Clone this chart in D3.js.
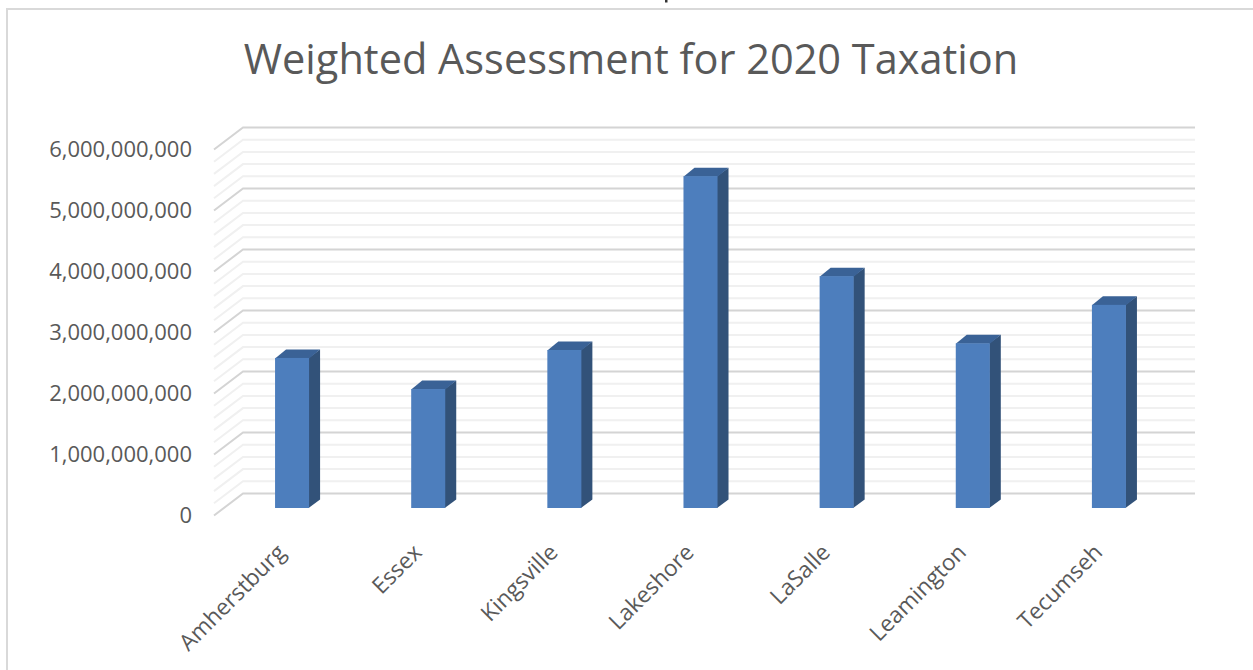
<!DOCTYPE html>
<html>
<head>
<meta charset="utf-8">
<style>
  body { margin: 0; background: #fff; }
  text { font-family: "Open Sans", sans-serif; fill: #595959; }
</style>
</head>
<body>
<svg id="chart" width="1253" height="670"></svg>

<script src="https://d3js.org/d3.v7.min.js"></script>
<script>
  // Data
  var categories = ["Amherstburg", "Essex", "Kingsville", "Lakeshore", "LaSalle", "Leamington", "Tecumseh"];
  var assessment = [2460000000, 1950000000, 2590000000, 5440000000, 3800000000, 2700000000, 3330000000];
  var majorTicks = [0, 1000000000, 2000000000, 3000000000, 4000000000, 5000000000, 6000000000];
  var minorTicks = [200000000, 400000000, 600000000, 800000000,
    1200000000, 1400000000, 1600000000, 1800000000,
    2200000000, 2400000000, 2600000000, 2800000000,
    3200000000, 3400000000, 3600000000, 3800000000,
    4200000000, 4400000000, 4600000000, 4800000000,
    5200000000, 5400000000, 5600000000, 5800000000];
  var chartTitle = "Weighted Assessment for 2020 Taxation";

  var svg = d3.select("#chart");

  // Chart frame, only the top and left edges are in the picture
  svg.append("path")
    .attr("d", "M7,670V9H1253")
    .attr("fill", "none")
    .attr("stroke", "#d9d9d9")
    .attr("stroke-width", 2);

  // Speck left over from the text above the frame
  svg.append("rect")
    .attr("x", 665).attr("y", 0)
    .attr("width", 2.5).attr("height", 2.5)
    .attr("fill", "#333");

  svg.append("text")
    .attr("x", 631).attr("y", 74)
    .attr("text-anchor", "middle")
    .style("font-size", "41.5px")
    .text(chartTitle);

  // Scales: y is the back wall, the floor runs forward and to the left of it
  var y = d3.scaleLinear().domain([0, 6000000000]).range([493.5, 127.5]);
  var x = d3.scaleBand().domain(categories).range([224, 1177]).paddingInner(0.75).paddingOuter(0.375);
  var wallLeft = 243, wallRight = 1195;
  var depthX = 29, depthY = 22;       // full depth of the floor
  var barDepthX = 11, barDepthY = 8.5; // depth of one bar
  var barFront = 14.5;                // how far the bar front stands forward of the wall

  function gridLines(values, colour, width) {
    svg.append("g").selectAll("path")
      .data(values)
      .enter()
      .append("path")
      .attr("d", function (d) {
        return "M" + (wallLeft - depthX) + "," + (y(d) + depthY) +
          "L" + wallLeft + "," + y(d) + "H" + wallRight;
      })
      .attr("fill", "none")
      .attr("stroke", colour)
      .attr("stroke-width", width);
  }
  gridLines(minorTicks, "#f0f0f0", 2);
  gridLines(majorTicks, "#d4d4d4", 2);

  // Bars
  var bars = svg.append("g").selectAll("g")
    .data(categories)
    .enter()
    .append("g");

  function faceTop(i) { return y(assessment[i]) + barFront; }
  var faceBottom = y(0) + barFront;

  bars.append("path")  // side
    .attr("fill", "#325279")
    .attr("d", function (d, i) {
      var r = x(d) + x.bandwidth() - 0.5;
      return "M" + r + "," + faceTop(i) + "l" + (barDepthX + 0.5) + "," + (-barDepthY) +
        "V" + (faceBottom - barDepthY) + "L" + r + "," + faceBottom + "Z";
    });

  bars.append("path")  // top
    .attr("fill", "#3a6296")
    .attr("d", function (d, i) {
      return "M" + x(d) + "," + (faceTop(i) + 0.5) + "l" + barDepthX + "," + (-barDepthY - 0.5) +
        "h" + x.bandwidth() + "l" + (-barDepthX) + "," + (barDepthY + 0.5) + "Z";
    });

  bars.append("rect")  // front
    .attr("fill", "#4d7ebd")
    .attr("x", function (d) { return x(d); })
    .attr("width", x.bandwidth())
    .attr("y", function (d, i) { return faceTop(i); })
    .attr("height", function (d, i) { return faceBottom - faceTop(i); });

  // Value axis sits on the front edge of the floor
  var yAxis = svg.append("g")
    .attr("transform", "translate(192," + depthY + ")")
    .call(d3.axisLeft(y).tickValues(majorTicks).tickFormat(d3.format(",")).tickSize(0).tickPadding(0));
  yAxis.select(".domain").remove();
  yAxis.selectAll("text")
    .style("font-family", "'Open Sans', sans-serif")
    .style("font-size", "22px")
    .style("fill", "#595959");

  // Category axis with slanted labels
  var xAxis = svg.append("g")
    .attr("transform", "translate(-18,541)")
    .call(d3.axisBottom(x).tickSize(0).tickPadding(0));
  xAxis.select(".domain").remove();
  xAxis.selectAll("text")
    .style("font-family", "'Open Sans', sans-serif")
    .style("font-size", "22.6px")
    .style("fill", "#595959")
    .style("text-anchor", "end")
    .attr("dx", 0)
    .attr("dy", "0.8em")
    .attr("transform", "rotate(-45)");
</script>
</body>
</html>
